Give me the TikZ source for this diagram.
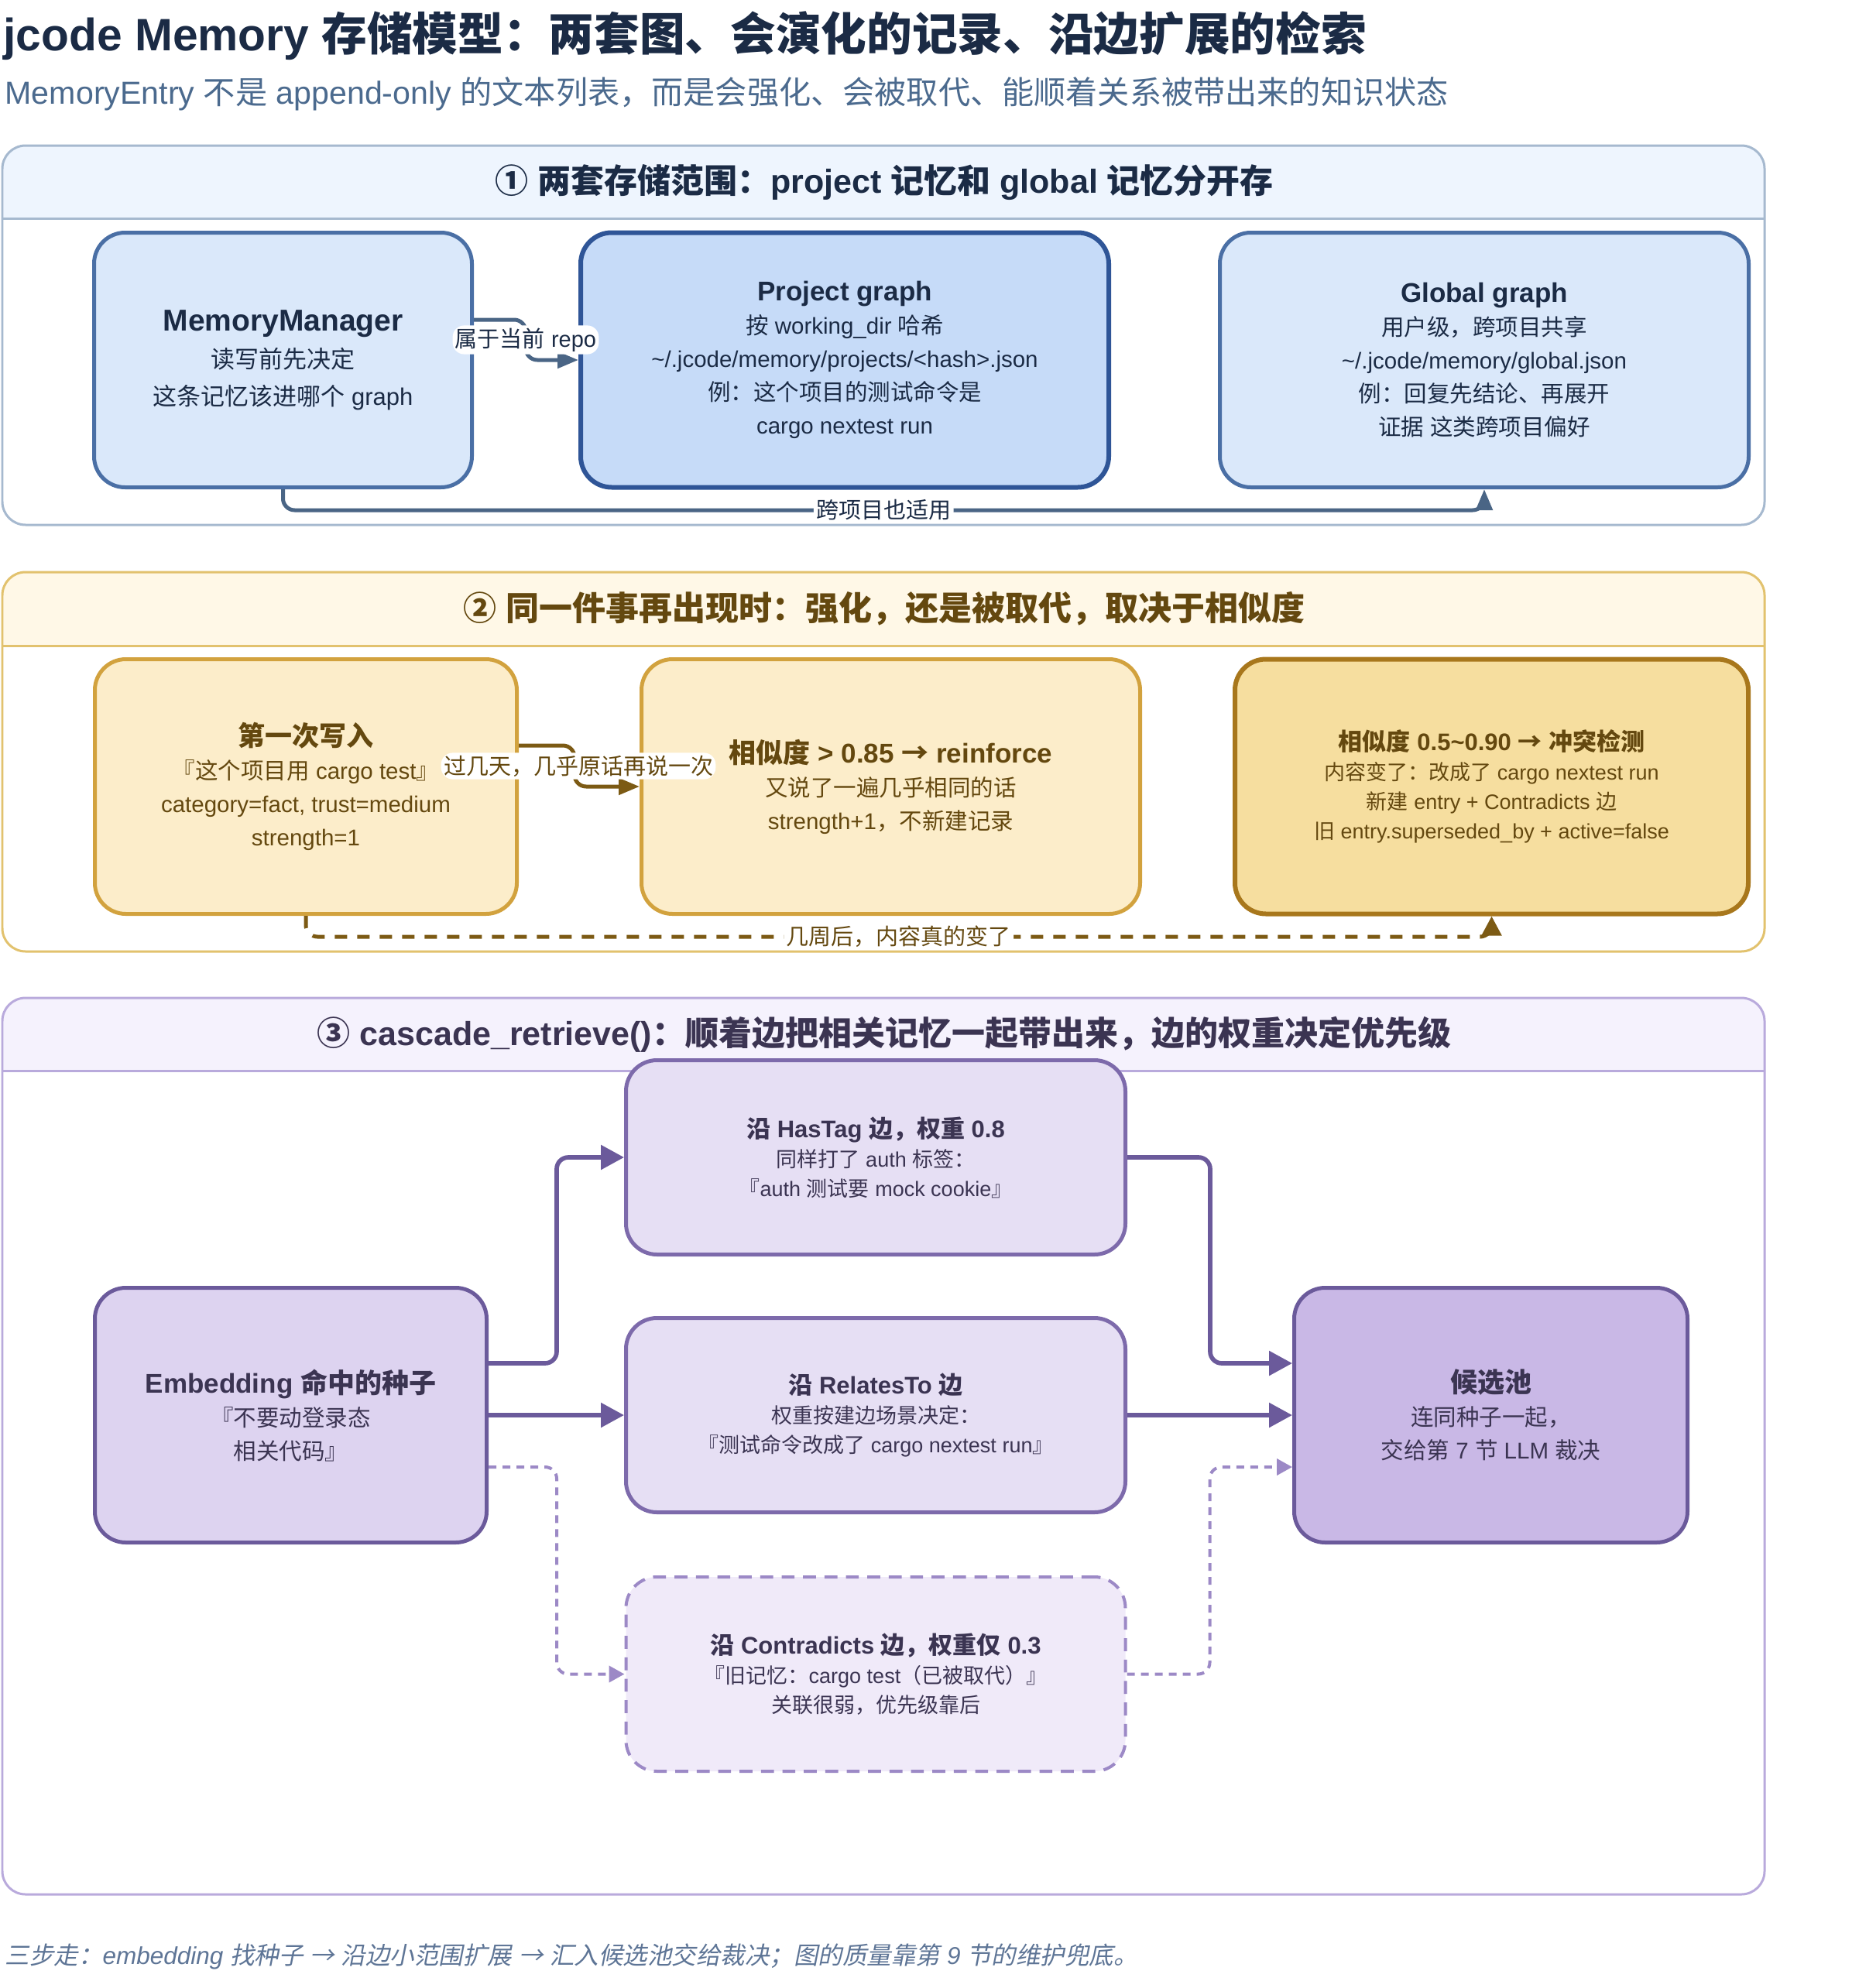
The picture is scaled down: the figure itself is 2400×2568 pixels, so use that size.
\documentclass[tikz,border=0pt]{standalone}
\usepackage{fontspec}
\setmainfont{Liberation Sans}
\newfontfamily\cjkfont{Noto Sans CJK SC}[AutoFakeSlant=0.2]
\usetikzlibrary{arrows.meta}

% Han characters, arrows and full-width punctuation go to the CJK font
\XeTeXinterchartokenstate=1
\newXeTeXintercharclass\hanclass
\newcount\hancnt
\newcommand{\hanrange}[2]{\hancnt=#1 \loop\XeTeXcharclass\hancnt=\hanclass \ifnum\hancnt<#2 \advance\hancnt by 1 \repeat}
\hanrange{"3000}{"303F}
\hanrange{"4E00}{"9FFF}
\hanrange{"FF00}{"FFEF}
\hanrange{"2460}{"2473}
\hanrange{"2190}{"2193}
\XeTeXinterchartoks 0 \hanclass = {\cjkfont}
\XeTeXinterchartoks 4095 \hanclass = {\cjkfont}
\XeTeXinterchartoks \hanclass 0 = {\rmfamily}
\XeTeXinterchartoks \hanclass 4095 = {\rmfamily}
\XeTeXinterchartoks 4095 0 = {\rmfamily}

\definecolor{navy}{HTML}{1B2B45}
\definecolor{slate}{HTML}{4B6A8E}
\definecolor{footc}{HTML}{5E7596}
\definecolor{hdblue}{HTML}{EEF5FE}
\definecolor{panblue}{HTML}{A6B9CF}
\definecolor{bluefill}{HTML}{DAE8FA}
\definecolor{blueline}{HTML}{4A6FA5}
\definecolor{bluedeep}{HTML}{C6DBF8}
\definecolor{bluedark}{HTML}{2F5597}
\definecolor{edgeblue}{HTML}{4A6585}
\definecolor{hdgold}{HTML}{FFF8E7}
\definecolor{pangold}{HTML}{E2C26E}
\definecolor{goldfill}{HTML}{FCEDCA}
\definecolor{goldline}{HTML}{D2A23E}
\definecolor{golddeep}{HTML}{F6DE9F}
\definecolor{golddark}{HTML}{A8771C}
\definecolor{brown}{HTML}{64480F}
\definecolor{edgebrown}{HTML}{7C5A14}
\definecolor{hdlilac}{HTML}{F5F2FD}
\definecolor{panlilac}{HTML}{B9AADC}
\definecolor{lilacfill}{HTML}{DDD3F0}
\definecolor{lilacline}{HTML}{6B5A9B}
\definecolor{lilacpale}{HTML}{E6DFF4}
\definecolor{lilacmid}{HTML}{7D6AAB}
\definecolor{lilacpaler}{HTML}{F0EAF9}
\definecolor{lilacdash}{HTML}{9C89C6}
\definecolor{candfill}{HTML}{C9B8E6}
\definecolor{plum}{HTML}{3B3452}

\newcommand{\titlefont}{\fontsize{17.6}{22}\selectfont\bfseries}
\newcommand{\subfont}{\fontsize{12.35}{15}\selectfont}
\newcommand{\hdfont}{\fontsize{12.9}{15}\selectfont\bfseries}
\newcommand{\footfont}{\fontsize{9.45}{11}\selectfont\itshape}
\newcommand{\bodyfont}{\fontsize{8.85}{12.9}\selectfont}
\newcommand{\smallbody}{\fontsize{8.1}{11.4}\selectfont}
\newcommand{\mmbody}{\fontsize{9.3}{14.4}\selectfont}
\newcommand{\labfont}{\fontsize{8.7}{10}\selectfont}
\newcommand{\nl}[1]{{\fontsize{11.7}{14.4}\selectfont\bfseries #1}}
\newcommand{\nt}[1]{{\fontsize{10.5}{12.9}\selectfont\bfseries #1}}
\newcommand{\ns}[1]{{\fontsize{9.3}{11.4}\selectfont\bfseries #1}}

\begin{document}
\begin{tikzpicture}[x=0.3pt, y=-0.3pt,
  every node/.style={inner sep=0pt},
  panel/.style={line width=0.9pt, rounded corners=9pt},
  head/.style={font=\hdfont},
  box/.style={draw, rounded corners=12pt, line width=1.5pt, align=center, minimum height=98.7pt},
  sbox/.style={box, fill=bluefill, draw=blueline, text=navy, font=\bodyfont},
  pbox/.style={box, fill=bluedeep, draw=bluedark, line width=1.8pt, text=navy, font=\bodyfont},
  wbox/.style={box, fill=goldfill, draw=goldline, text=brown, font=\bodyfont},
  cbox/.style={box, fill=golddeep, draw=golddark, line width=1.8pt, text=brown, font=\smallbody},
  ebox/.style={box, fill=lilacfill, draw=lilacline, text=plum, font=\bodyfont},
  qbox/.style={ebox, fill=candfill},
  tbox/.style={box, fill=lilacpale, draw=lilacmid, minimum height=75.3pt, minimum width=193.5pt, text=plum, font=\smallbody},
  dbox/.style={tbox, fill=lilacpaler, draw=lilacdash, line width=1.2pt, dash pattern=on 5pt off 3.3pt},
  link/.style={line width=1.5pt, rounded corners=4.5pt, -{Triangle[length=8.1pt, width=6.3pt]}},
  dlink/.style={link, dash pattern=on 4.8pt off 3.9pt, -{Triangle[length=7.5pt, width=7.5pt]}},
  vlink/.style={link, draw=lilacline, line width=1.7pt, -{Triangle[length=9pt, width=9.3pt]}},
  plink/.style={link, draw=lilacdash, line width=1.2pt, dash pattern=on 3pt off 2.4pt, -{Triangle[length=6pt, width=6.3pt]}},
  lab/.style={fill=white, inner sep=1pt, font=\labfont}]
  \useasboundingbox (0,0) rectangle (2400,2568);
  \fill[white] (0,0) rectangle (2400,2568);

  \node[anchor=west, font=\titlefont, text=navy] (title) at (4,46) {jcode Memory 存储模型：两套图、会演化的记录、沿边扩展的检索};
  \node[anchor=west, font=\subfont, text=slate] (subtitle) at (6,121) {MemoryEntry 不是 append-only 的文本列表，而是会强化、会被取代、能顺着关系被带出来的知识状态};

  % section 1
  \begin{scope}
    \clip[rounded corners=9pt] (3,188) rectangle (2279,678);
    \fill[hdblue] (3,188) rectangle (2279,282);
  \end{scope}
  \draw[panel, draw=panblue] (3,188) rectangle (2279,678);
  \draw[panblue, line width=0.9pt] (3,282) -- (2279,282);
  \node[head, text=navy] (head1) at (1142,236) {① 两套存储范围：project 记忆和 global 记忆分开存};

  \node[sbox, minimum width=146.4pt, font=\mmbody] (mm) at (365.5,465) {\nl{MemoryManager}\\读写前先决定\\这条记忆该进哪个 graph};
  \node[pbox, minimum width=204.6pt] (proj) at (1091,465) {\nt{Project graph}\\按 working\_dir 哈希\\\textasciitilde/.jcode/memory/projects/<hash>.json\\例：这个项目的测试命令是\\cargo nextest run};
  \node[sbox, minimum width=204.9pt] (glob) at (1917,465) {\nt{Global graph}\\用户级，跨项目共享\\\textasciitilde/.jcode/memory/global.json\\例：回复先结论、再展开\\证据 这类跨项目偏好};
  \draw[link, draw=edgeblue] ([yshift=15.6pt]mm.east) -- ++(67,0) |- node[lab, text=navy, pos=0.25] {属于当前 repo} (proj.west);
  \draw[link, draw=edgeblue] (mm.south) -- ++(0,27) -| node[lab, text=navy, pos=0.25] {跨项目也适用} (glob.south);

  % section 2
  \begin{scope}
    \clip[rounded corners=9pt] (3,739) rectangle (2279,1229);
    \fill[hdgold] (3,739) rectangle (2279,834);
  \end{scope}
  \draw[panel, draw=pangold] (3,739) rectangle (2279,1229);
  \draw[pangold, line width=0.9pt] (3,834) -- (2279,834);
  \node[head, text=brown] (head2) at (1142,786) {② 同一件事再出现时：强化，还是被取代，取决于相似度};

  \node[wbox, minimum width=163.5pt] (first) at (395,1016) {\nt{第一次写入}\\『这个项目用 cargo test』\\category=fact, trust=medium\\strength=1};
  \node[wbox, minimum width=193.2pt] (reinf) at (1150.5,1016) {\nt{相似度 > 0.85 → reinforce}\\又说了一遍几乎相同的话\\strength+1，不新建记录};
  \node[cbox, minimum width=198.9pt] (confl) at (1926.5,1016) {\ns{相似度 0.5\textasciitilde0.90 → 冲突检测}\\内容变了：改成了 cargo nextest run\\新建 entry + Contradicts 边\\旧 entry.superseded\_by + active=false};
  \draw[link, draw=edgebrown] ([yshift=15.9pt]first.east) -- ++(72,0) |- node[lab, text=brown, pos=0.25, xshift=1.5pt] {过几天，几乎原话再说一次} (reinf.west);
  \draw[dlink, draw=edgebrown] (first.south) -- ++(0,27) -| node[lab, text=brown, pos=0.25] {几周后，内容真的变了} (confl.south);

  % section 3
  \begin{scope}
    \clip[rounded corners=9pt] (3,1289) rectangle (2279,2447);
    \fill[hdlilac] (3,1289) rectangle (2279,1383);
  \end{scope}
  \draw[panel, draw=panlilac] (3,1289) rectangle (2279,2447);
  \draw[panlilac, line width=0.9pt] (3,1383) -- (2279,1383);
  \node[head, text=plum] (head3) at (1142,1336) {③ cascade\_retrieve()：顺着边把相关记忆一起带出来，边的权重决定优先级};

  \node[ebox, minimum width=151.8pt] (emb) at (375.5,1828) {\nt{Embedding 命中的种子}\\『不要动登录态\\相关代码』};
  \node[tbox] (hastag) at (1131,1495) {\ns{沿 HasTag 边，权重 0.8}\\同样打了 auth 标签：\\『auth 测试要 mock cookie』};
  \node[tbox] (relto) at (1131,1828) {\ns{沿 RelatesTo 边}\\权重按建边场景决定：\\『测试命令改成了 cargo nextest run』};
  \node[dbox] (contra) at (1131,2162.5) {\ns{沿 Contradicts 边，权重仅 0.3}\\『旧记忆：cargo test（已被取代）』\\关联很弱，优先级靠后};
  \node[qbox, minimum width=152.4pt] (cand) at (1925.5,1828) {\nt{候选池}\\连同种子一起，\\交给第 7 节 LLM 裁决};
  \draw[vlink] ([yshift=20.1pt]emb.east) -- ++(88,0) |- (hastag.west);
  \draw[vlink] (emb.east) -- (relto.west);
  \draw[plink] ([yshift=-20.1pt]emb.east) -- ++(88,0) |- (contra.west);
  \draw[vlink] (hastag.east) -- ++(107,0) |- ([yshift=20.1pt]cand.west);
  \draw[vlink] (relto.east) -- (cand.west);
  \draw[plink] (contra.east) -- ++(107,0) |- ([yshift=-20.1pt]cand.west);

  \node[anchor=west, font=\footfont, text=footc] (note) at (6,2527) {三步走：embedding 找种子 → 沿边小范围扩展 → 汇入候选池交给裁决；图的质量靠第 9 节的维护兜底。};
\end{tikzpicture}
\end{document}
